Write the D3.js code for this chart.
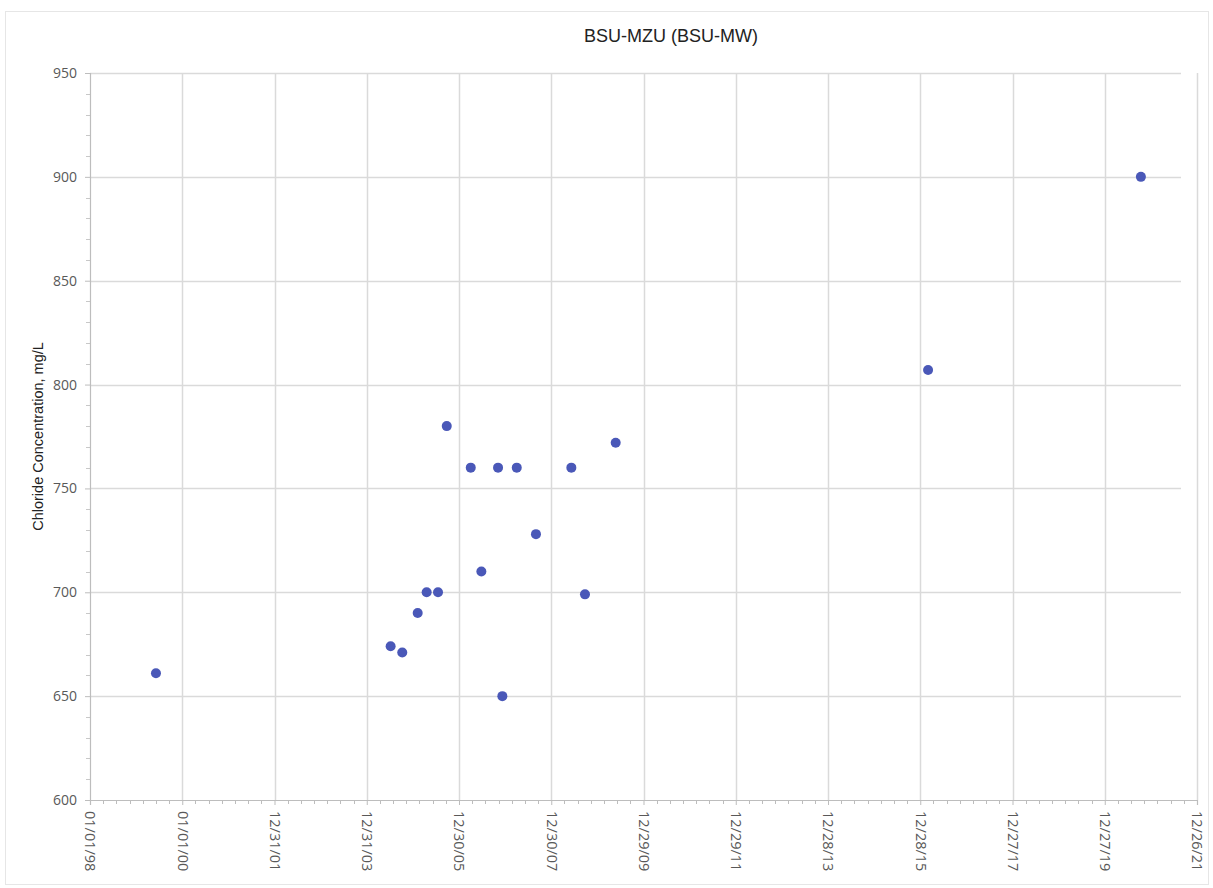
<!DOCTYPE html>
<html>
<head>
<meta charset="utf-8">
<script src="https://cdn.jsdelivr.net/npm/d3@7"></script>
<style>
  html, body { margin: 0; padding: 0; background: #fff; }
  svg { display: block; }
</style>
</head>
<body>
<svg id="chart" width="1213" height="888"></svg>
<script>
// ---- data ----
const sampleDates = ["1999-06-07","2004-07-07","2004-10-07","2005-02-06","2005-04-18","2005-07-17","2005-09-24","2006-04-02","2006-06-25","2006-11-04","2006-12-08","2007-04-01","2007-08-31","2008-06-06","2008-09-22","2009-05-23","2016-02-28","2020-10-08"];
const chlorideValues = [661,674,671,690,700,700,780,760,710,760,650,760,728,760,699,772,807,900];
const xTickDates = ["1998-01-01","2000-01-01","2001-12-31","2003-12-31","2005-12-30","2007-12-30","2009-12-29","2011-12-29","2013-12-28","2015-12-28","2017-12-27","2019-12-27","2021-12-26"];
const yTickValues = [600,650,700,750,800,850,900,950];
const titleText = "BSU-MZU (BSU-MW)";
const yAxisLabel = "Chloride Concentration, mg/L";

(function () {
const parse = d3.timeParse("%Y-%m-%d");
const fmt = d3.timeFormat("%m/%d/%y");
const points = sampleDates.map((d, i) => ({ date: parse(d), value: chlorideValues[i] }));
const xTicks = xTickDates.map(parse);

const svg = d3.select("#chart");
const pLeft = 90, pRight = 1197, pTop = 73, pBottom = 800;

// outer frame
svg.append("rect").attr("x", 5.5).attr("y", 11.5).attr("width", 1203).attr("height", 873)
  .attr("fill", "none").attr("stroke", "#e6e6e6").attr("stroke-width", 1);

const x = d3.scaleTime().domain([xTicks[0], xTicks[xTicks.length - 1]]).range([pLeft, pRight]);
const y = d3.scaleLinear().domain([600, 950]).range([pBottom, pTop]);

// gridlines horizontal
svg.append("g").selectAll("line").data(yTickValues.slice(1)).join("line")
  .attr("x1", pLeft).attr("x2", 1181)
  .attr("y1", d => Math.round(y(d)) + 0.5).attr("y2", d => Math.round(y(d)) + 0.5)
  .attr("stroke", "#dadada").attr("stroke-width", 1.5);

// gridlines vertical
svg.append("g").selectAll("line").data(xTicks.slice(1)).join("line")
  .attr("y1", pTop).attr("y2", pBottom)
  .attr("x1", d => Math.round(x(d)) + 0.5).attr("x2", d => Math.round(x(d)) + 0.5)
  .attr("stroke", "#dadada").attr("stroke-width", 1.5);

// minor ticks x: 7 subdivisions per major interval
const xMinor = [];
for (let i = 0; i < xTicks.length - 1; i++) {
  const a = xTicks[i].getTime(), b = xTicks[i + 1].getTime();
  for (let k = 1; k < 7; k++) xMinor.push(new Date(a + (b - a) * k / 7));
}
svg.append("g").selectAll("line").data(xMinor).join("line")
  .attr("x1", d => Math.round(x(d)) + 0.5).attr("x2", d => Math.round(x(d)) + 0.5)
  .attr("y1", pBottom).attr("y2", pBottom + 4)
  .attr("stroke", "#bdbdbd");

// minor ticks y every 10
const yMinor = d3.range(610, 950, 10).filter(v => v % 50 !== 0);
svg.append("g").selectAll("line").data(yMinor).join("line")
  .attr("x1", pLeft - 4).attr("x2", pLeft)
  .attr("y1", d => Math.round(y(d)) + 0.5).attr("y2", d => Math.round(y(d)) + 0.5)
  .attr("stroke", "#c8c8c8");

// x axis
const xAxis = d3.axisBottom(x).tickValues(xTicks).tickFormat(fmt).tickSize(5).tickPadding(0);
const gx = svg.append("g").attr("transform", `translate(0,${pBottom})`).call(xAxis);
gx.select(".domain").attr("stroke", "#bdbdbd").attr("stroke-width", 1.2);
gx.selectAll(".tick line").attr("stroke", "#bdbdbd");
gx.selectAll(".tick text")
  .attr("transform", "rotate(90)")
  .attr("x", 11).attr("y", 0).attr("dy", "0.35em")
  .attr("text-anchor", "start")
  .attr("fill", "#595959")
  .style("font-family", "'Open Sans', sans-serif").style("font-size", "14.5px");

// y axis
const yAxis = d3.axisLeft(y).tickValues(yTickValues).tickSize(5).tickPadding(8);
const gy = svg.append("g").attr("transform", `translate(${pLeft},0)`).call(yAxis);
gy.select(".domain").attr("stroke", "#bdbdbd").attr("stroke-width", 1.2);
gy.selectAll(".tick line").attr("stroke", "#bdbdbd");
gy.selectAll(".tick text").attr("fill", "#595959")
  .style("font-family", "'Open Sans', sans-serif").style("font-size", "14px");

// points
svg.append("g").selectAll("circle").data(points).join("circle")
  .attr("cx", d => x(d.date)).attr("cy", d => y(d.value)).attr("r", 5)
  .attr("fill", "#4a58b8");

// title
svg.append("text").attr("x", 671).attr("y", 36).attr("text-anchor", "middle")
  .attr("dy", "0.35em")
  .style("font-family", "'Liberation Sans', Arial, sans-serif").style("font-size", "18px")
  .attr("fill", "#222").text(titleText);

// y label
svg.append("text").attr("transform", `translate(38,${(pTop + pBottom) / 2}) rotate(-90)`)
  .attr("text-anchor", "middle").attr("dy", "0.35em")
  .style("font-family", "'Liberation Sans', Arial, sans-serif").style("font-size", "14.5px")
  .attr("fill", "#222").text(yAxisLabel);
})();
</script>
</body>
</html>
